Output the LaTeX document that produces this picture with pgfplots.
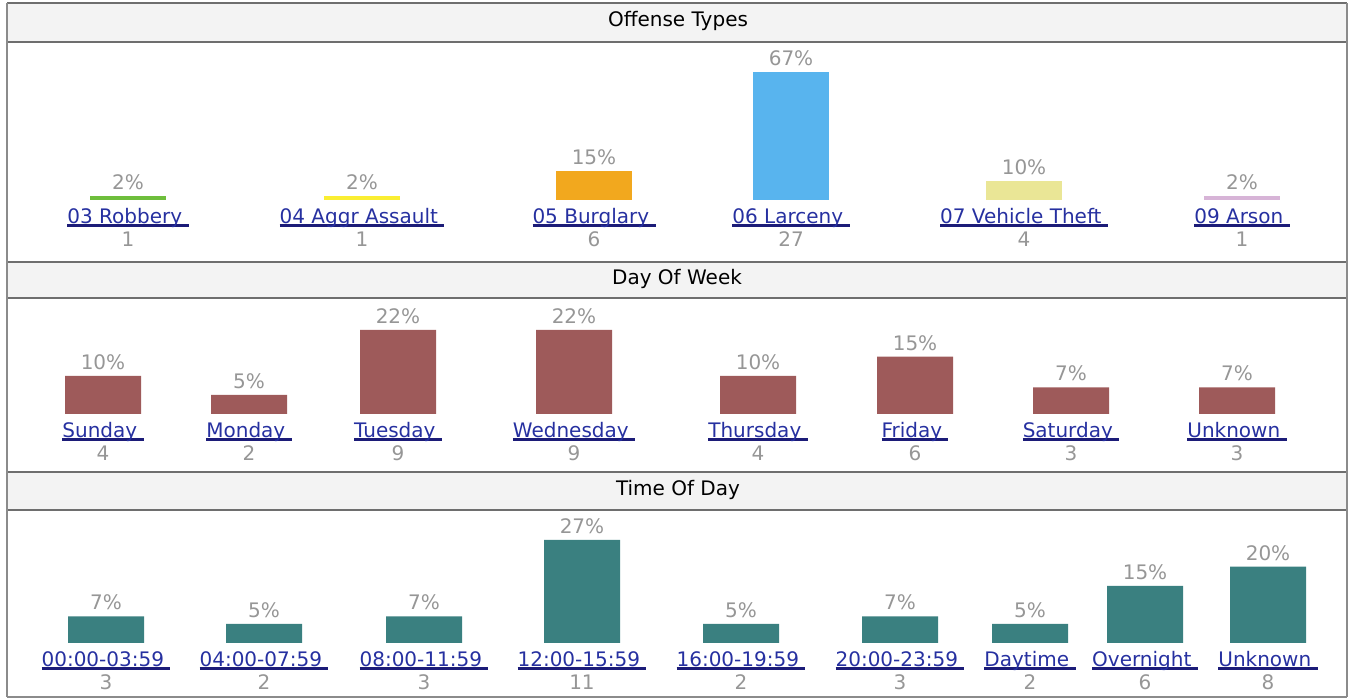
\documentclass[border=0pt]{standalone}
\usepackage{pgfplots}
\pgfplotsset{compat=1.18}
\usepackage{fontspec}
\setmainfont{DejaVu Sans}
\definecolor{lblue}{RGB}{38,48,160}
\definecolor{ulc}{RGB}{28,28,120}
\definecolor{cnt}{RGB}{150,150,150}
\definecolor{stripbg}{RGB}{243,243,243}
\definecolor{frame}{RGB}{110,110,110}
\definecolor{robc}{RGB}{110,190,60}
\definecolor{aggc}{RGB}{250,238,50}
\definecolor{burc}{RGB}{242,168,30}
\definecolor{larc}{RGB}{88,180,238}
\definecolor{vehc}{RGB}{234,230,150}
\definecolor{arsc}{RGB}{215,180,215}
\definecolor{dayc}{RGB}{158,90,90}
\definecolor{timec}{RGB}{58,128,128}
\newcommand\ul[1]{\setbox0\hbox{#1\ }\rlap{\color{ulc}\rule[-3.5pt]{\wd0}{2.6pt}}{\color{lblue}\box0}}
\newcommand\lb[2]{\ul{#1}\\{\color{cnt}#2}}
\newcommand\lf{\fontsize{20}{23}\selectfont}
\pgfplotsset{
  panel/.style={
    scale only axis, width=1353pt, xmin=0, xmax=1353, ymin=0,
    enlargelimits=false, clip=false,
    axis line style={draw=none}, tick style={draw=none},
    major tick length=0pt, ytick=\empty,
    /pgf/number format/assume math mode=true,
    xticklabel style={font=\lf, align=center, anchor=north, inner sep=0pt, yshift=-8pt},
    nodes near coords={\pgfmathprintnumber[fixed,precision=0]{\pgfplotspointmeta}\%},
    every node near coord/.append style={font=\lf, color=cnt, anchor=south, inner sep=0pt, yshift=6pt},
    every axis plot/.append style={ybar, bar width=76, bar shift=0pt, draw=none},
  },
}
\begin{document}
\begin{tikzpicture}
\useasboundingbox (0pt,0pt) rectangle (1353pt,700pt);
% strips
\fill[stripbg] (7pt,658pt) rectangle (1347pt,697pt);
\fill[stripbg] (7pt,402pt) rectangle (1347pt,438pt);
\fill[stripbg] (7pt,190pt) rectangle (1347pt,228pt);
\foreach \yy in {697,658,438,402,228,190}{
  \draw[frame, line width=1.6pt] (7pt,\yy pt) -- (1347pt,\yy pt);
}
\draw[frame!80, line width=1.4pt] (7pt,3pt) -- (7pt,697pt);
\draw[frame!80, line width=1.4pt] (1347pt,3pt) -- (1347pt,697pt);
\draw[frame!80, line width=1.4pt] (7pt,3pt) -- (1347pt,3pt);
\node[font=\fontsize{20}{23}\selectfont] at (678pt,679pt) {Offense Types};
\node[font=\fontsize{20}{23}\selectfont] at (677pt,421pt) {Day Of Week};
\node[font=\fontsize{20}{23}\selectfont] at (678pt,210pt) {Time Of Day};

% Offense types
\begin{axis}[panel, at={(0pt,500pt)}, anchor=south west, height=128pt, ymax=67,
  xtick={128,362,594,791,1024,1242},
  xticklabels={{\lb{03 Robbery}{1}},{\lb{04 Aggr Assault}{1}},{\lb{05 Burglary}{6}},{\lb{06 Larceny}{27}},{\lb{07 Vehicle Theft}{4}},{\lb{09 Arson}{1}}}]
\addplot[fill=robc] coordinates {(128,2)};
\addplot[fill=aggc] coordinates {(362,2)};
\addplot[fill=burc] coordinates {(594,15)};
\addplot[fill=larc] coordinates {(791,67)};
\addplot[fill=vehc] coordinates {(1024,10)};
\addplot[fill=arsc] coordinates {(1242,2)};
\end{axis}

% Day of week
\begin{axis}[panel, at={(0pt,286pt)}, anchor=south west, height=84pt, ymax=22,
  xtick={103,249,398,574,758,915,1071,1237},
  xticklabels={{\lb{Sunday}{4}},{\lb{Monday}{2}},{\lb{Tuesday}{9}},{\lb{Wednesday}{9}},{\lb{Thursday}{4}},{\lb{Friday}{6}},{\lb{Saturday}{3}},{\lb{Unknown}{3}}}]
\addplot[fill=dayc] coordinates {(103,10) (249,5) (398,22) (574,22) (758,10) (915,15) (1071,7) (1237,7)};
\end{axis}

% Time of day
\begin{axis}[panel, at={(0pt,57pt)}, anchor=south west, height=103pt, ymax=27,
  xtick={106,264,424,582,741,900,1030,1145,1268},
  xticklabels={{\lb{00:00-03:59}{3}},{\lb{04:00-07:59}{2}},{\lb{08:00-11:59}{3}},{\lb{12:00-15:59}{11}},{\lb{16:00-19:59}{2}},{\lb{20:00-23:59}{3}},{\lb{Daytime}{2}},{\lb{Overnight}{6}},{\lb{Unknown}{8}}}]
\addplot[fill=timec] coordinates {(106,7) (264,5) (424,7) (582,27) (741,5) (900,7) (1030,5) (1145,15) (1268,20)};
\end{axis}
\end{tikzpicture}
\end{document}
